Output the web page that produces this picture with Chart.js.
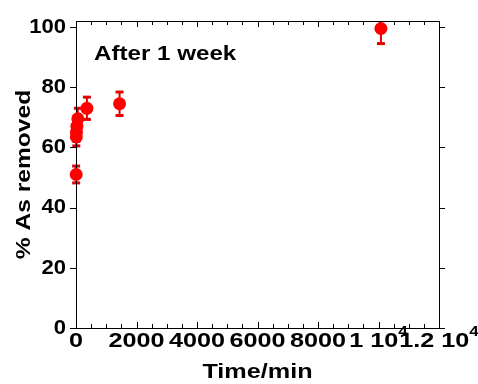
<!DOCTYPE html>
<html>
<head>
<meta charset="utf-8">
<script src="https://cdn.jsdelivr.net/npm/chart.js@4"></script>
<style>
body { margin: 0; background: #fff; }
</style>
</head>
<body>
<canvas id="chart" width="478" height="384"></canvas>
<script>
// data
const times = [5, 10, 15, 30, 60, 360, 1440, 10080];
const removed = [51, 63.5, 65, 67, 69.5, 73, 74.5, 99.5];
const errors = [2.8, 3, 3, 3, 3.5, 3.7, 3.9, 5];

// axis ticks
const xTicks = [0, 2000, 4000, 6000, 8000, 10000, 12000];
const xTickLabels = ['0', '2000', '4000', '6000', '8000', ['1 10', '4'], ['1.2 10', '4']];
const xMinorStep = 500;
const yTicks = [0, 20, 40, 60, 80, 100];

const FONT = '"Liberation Sans", Arial, sans-serif';

// text stretched along its own direction (reference glyphs are wider)
function wideText(ctx, text, x, y, sx, align) {
    const w = ctx.measureText(text).width * sx;
    let start = x;
    if (align === 'center') start = x - w / 2;
    if (align === 'right') start = x - w;
    ctx.save();
    ctx.textAlign = 'left';
    ctx.translate(start, y);
    ctx.scale(sx, 1);
    ctx.fillText(text, 0, 0);
    ctx.restore();
    return w;
}

// error bars, behind the markers, clipped to the plot box
const errorBars = {
    id: 'errorBars',
    beforeDatasetsDraw(chart) {
        const ctx = chart.ctx;
        const a = chart.chartArea;
        const x = chart.scales.x, y = chart.scales.y;
        ctx.save();
        ctx.beginPath();
        ctx.rect(a.left - 10, a.top, a.right - a.left + 20, a.bottom - a.top);
        ctx.clip();
        ctx.strokeStyle = '#e00000';
        ctx.fillStyle = '#e00000';
        ctx.lineWidth = 2;
        for (let i = 0; i < times.length; i++) {
            const px = x.getPixelForValue(times[i]);
            const top = y.getPixelForValue(removed[i] + errors[i]);
            const bot = y.getPixelForValue(removed[i] - errors[i]);
            ctx.beginPath();
            ctx.moveTo(px, top);
            ctx.lineTo(px, bot);
            ctx.stroke();
            ctx.fillRect(px - 4, top - 1.5, 8, 3);
            ctx.fillRect(px - 4, bot - 1.5, 8, 3);
        }
        ctx.restore();
    }
};

// frame, ticks, labels and titles
const frame = {
    id: 'frame',
    beforeDatasetsDraw(chart) {
        const ctx = chart.ctx;
        const a = chart.chartArea;
        const x = chart.scales.x, y = chart.scales.y;
        ctx.save();
        ctx.strokeStyle = '#000';
        ctx.lineWidth = 1;
        ctx.strokeRect(a.left + 0.5, a.top + 0.5, a.right - a.left, a.bottom - a.top);

        ctx.beginPath();
        // x ticks, inward on bottom and top
        for (let v = 0; v <= 12000; v += xMinorStep) {
            const px = Math.round(x.getPixelForValue(v)) + 0.5;
            const len = xTicks.includes(v) ? 6 : 4;
            ctx.moveTo(px, a.bottom);
            ctx.lineTo(px, a.bottom - len);
            ctx.moveTo(px, a.top);
            ctx.lineTo(px, a.top + len);
        }
        // y ticks, outward on left and right
        yTicks.forEach(v => {
            const py = Math.round(y.getPixelForValue(v)) + 0.5;
            ctx.moveTo(a.left - 6, py);
            ctx.lineTo(a.left, py);
            ctx.moveTo(a.right, py);
            ctx.lineTo(a.right + 6, py);
        });
        ctx.stroke();

        ctx.fillStyle = '#000';
        ctx.font = 'bold 21px ' + FONT;
        // y tick labels
        ctx.textBaseline = 'middle';
        yTicks.forEach(v => {
            wideText(ctx, String(v), a.left - 10, y.getPixelForValue(v), 1.05, 'right');
        });
        // x tick labels
        ctx.textBaseline = 'alphabetic';
        const sx = 1.2;
        xTicks.forEach((v, i) => {
            const lab = xTickLabels[i];
            const px = x.getPixelForValue(v);
            const base = Array.isArray(lab) ? lab[0] : lab;
            ctx.font = 'bold 21px ' + FONT;
            const wb = ctx.measureText(base).width * sx;
            let we = 0;
            if (Array.isArray(lab)) {
                ctx.font = 'bold 14px ' + FONT;
                we = ctx.measureText(lab[1]).width * sx;
            }
            const start = px - (wb + we) / 2;
            ctx.font = 'bold 21px ' + FONT;
            wideText(ctx, base, start, 347, sx, 'left');
            if (we) {
                ctx.font = 'bold 14px ' + FONT;
                wideText(ctx, lab[1], start + wb, 336, sx, 'left');
            }
        });
        // axis titles
        ctx.font = 'bold 21px ' + FONT;
        wideText(ctx, 'Time/min', (a.left + a.right) / 2, 378, 1.2, 'center');
        ctx.save();
        ctx.translate(30, (a.top + a.bottom) / 2);
        ctx.rotate(-Math.PI / 2);
        wideText(ctx, '% As removed', 0, 0, 1.17, 'center');
        ctx.restore();
        // annotation
        wideText(ctx, 'After 1 week', 94, 60, 1.15, 'left');
        ctx.restore();
    }
};

new Chart(document.getElementById('chart'), {
    type: 'scatter',
    data: {
        datasets: [{
            data: times.map((t, i) => ({ x: t, y: removed[i] })),
            backgroundColor: '#ff0000',
            borderColor: '#ff0000',
            borderWidth: 0,
            pointRadius: 6.5,
            clip: false
        }]
    },
    options: {
        responsive: false,
        animation: false,
        layout: { padding: { left: 76, right: 39, top: 21, bottom: 56 } },
        plugins: { legend: { display: false }, tooltip: { enabled: false } },
        scales: {
            x: { type: 'linear', min: 0, max: 12000, display: false },
            y: { min: 0, max: 102, display: false }
        }
    },
    plugins: [errorBars, frame]
});
</script>
</body>
</html>
